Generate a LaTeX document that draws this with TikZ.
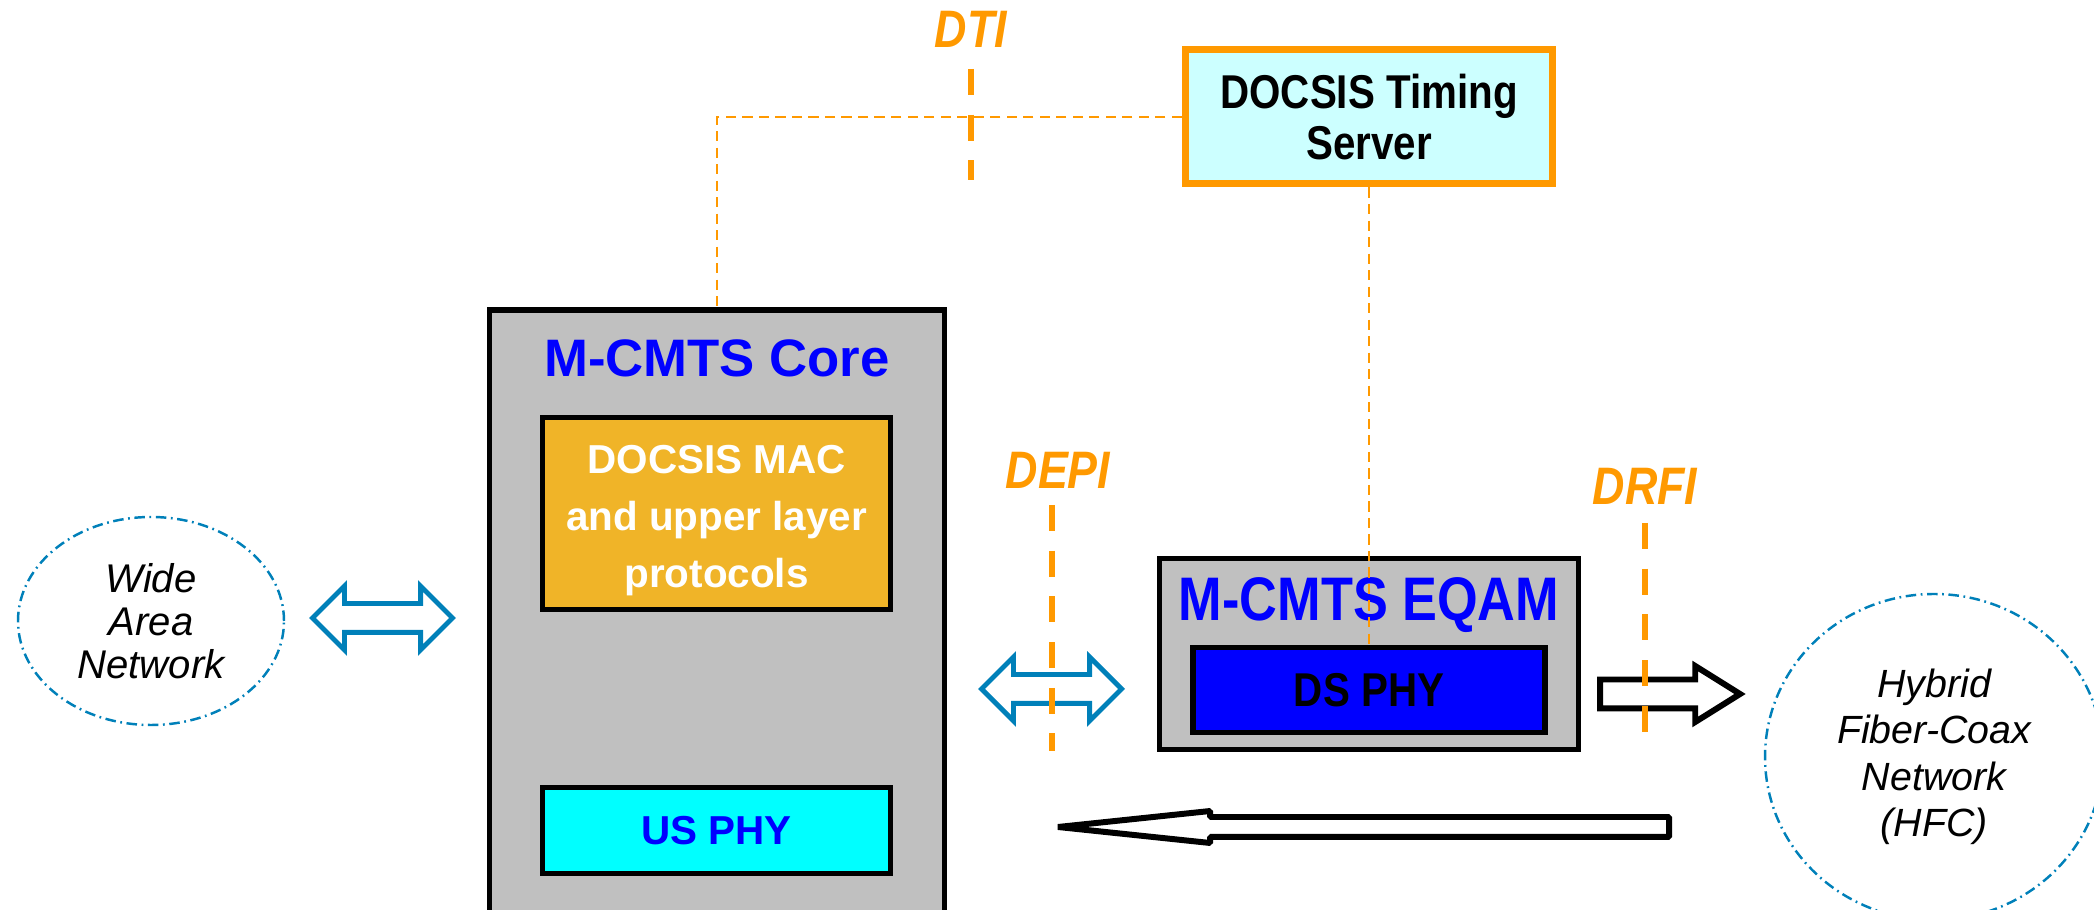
\documentclass[tikz,border=0pt]{standalone}
\usepackage{fontspec}
\setmainfont{Liberation Sans}
\newfontfamily\narrowfont[FakeStretch=0.85]{Liberation Sans}
\usetikzlibrary{shapes.geometric, shapes.arrows}

\definecolor{ifaceorange}{RGB}{255,153,0}
\definecolor{linkblue}{RGB}{0,128,185}
\definecolor{shelfgray}{RGB}{192,192,192}
\definecolor{macgold}{RGB}{240,180,40}
\definecolor{syncpale}{RGB}{204,255,255}
\definecolor{phycyan}{RGB}{0,255,255}
\definecolor{phyblue}{RGB}{0,0,255}

\tikzset{
  block/.style={draw, line width=1.5pt, inner sep=0pt, align=center},
  headline/.style={text=phyblue, font=\bfseries\fontsize{15}{18}\selectfont},
  ifacetag/.style={text=ifaceorange, font=\narrowfont\bfseries\itshape\fontsize{15}{18}\selectfont},
  ifacecut/.style={draw=ifaceorange, line width=1.6pt, dash pattern=on 7.4pt off 5.6pt},
  syncline/.style={draw=ifaceorange, line width=0.6pt, dash pattern=on 2.9pt off 1.8pt},
  netcloud/.style={ellipse, draw=linkblue, line width=0.7pt, inner sep=0pt, align=center,
    dash pattern=on 3pt off 1.3pt on 0.5pt off 1.3pt},
  duplex/.style={shape=double arrow, draw=linkblue, fill=white, line width=1.4pt,
    minimum height=1.40cm, minimum width=0.59cm, inner xsep=0pt, inner ysep=0.12cm,
    double arrow head extend=0.175cm, double arrow tip angle=90},
  flowright/.style={shape=single arrow, draw, fill=white, line width=1.7pt, outer sep=0pt,
    minimum height=1.40cm, minimum width=0.50cm, inner xsep=0pt, inner ysep=0.115cm,
    single arrow head extend=0.135cm, single arrow tip angle=64},
  flowleft/.style={shape=single arrow, shape border rotate=180, draw, fill=white, line width=1.7pt,
    outer sep=0pt, line join=bevel, minimum height=6.11cm, minimum width=0.26cm, inner xsep=0pt,
    inner ysep=0.07cm, single arrow head extend=0.06cm, single arrow tip angle=12}
}

\begin{document}
\begin{tikzpicture}
\useasboundingbox (0,0) rectangle (20.94,9.10);

% M-CMTS Core
\node[block, fill=shelfgray, minimum width=4.55cm, minimum height=6.30cm] (core) at (7.17,2.85) {};
\node[headline] (coretitle) at (7.17,5.52) {M-CMTS Core};
\node[block, fill=macgold, minimum width=3.48cm, minimum height=1.92cm, text=white,
  font=\bfseries\fontsize{11.5}{16.2}\selectfont] (mac) at (7.165,3.965) {\rule{0pt}{0.42cm}DOCSIS MAC\\and upper layer\\protocols};
\node[block, fill=phycyan, minimum width=3.48cm, minimum height=0.86cm, text=phyblue,
  font=\bfseries\fontsize{11.5}{14}\selectfont] (usphy) at (7.165,0.795) {US PHY};

% timing server
\node[block, draw=ifaceorange, line width=2pt, fill=syncpale, minimum width=3.67cm, minimum height=1.34cm,
  font=\narrowfont\bfseries\fontsize{13.5}{14.4}\selectfont] (server) at (13.69,7.93) {DOCSIS Timing\\Server};

% M-CMTS EQAM
\node[block, fill=shelfgray, minimum width=4.19cm, minimum height=1.91cm] (eqam) at (13.69,2.56) {};
\node[headline, font=\narrowfont\bfseries\fontsize{17.5}{20}\selectfont] (eqamtitle) at (13.69,3.05) {M-CMTS EQAM};
\node[block, fill=phyblue, minimum width=3.52cm, minimum height=0.85cm,
  font=\narrowfont\bfseries\fontsize{13.5}{16}\selectfont] (dsphy) at (13.69,2.20) {DS PHY};

% timing links
\draw[syncline] (server.west) -| (core.north);
\draw[syncline] (server.south) -- (dsphy.north);

% networks
\node[netcloud, minimum width=2.66cm, minimum height=2.08cm,
  font=\itshape\fontsize{11.4}{12.3}\selectfont] (wan) at (1.51,2.89) {Wide\\Area\\Network};
\node[netcloud, minimum width=3.38cm, minimum height=3.26cm,
  font=\itshape\fontsize{11.2}{13.2}\selectfont] (hfc) at (19.34,1.53) {Hybrid\\Fiber-Coax\\Network\\(HFC)};

% data paths
\node[duplex] (wanlink) at (3.825,2.92) {};
\node[duplex] (depilink) at (10.515,2.21) {};
\node[flowright, anchor=tail] (drfilink) at (16.00,2.16) {};
\node[flowleft, anchor=tip] (uslink) at (10.58,0.83) {};

% interfaces
\node[ifacetag] (dti) at (9.71,8.81) {DTI};
\coordinate (dtitop) at (9.71,8.41);
\coordinate (dtibot) at (9.71,7.30);
\draw[ifacecut] (dtitop) -- (dtibot);

\node[ifacetag] (depi) at (10.58,4.40) {DEPI};
\coordinate (depitop) at (10.52,4.05);
\coordinate (depibot) at (10.52,1.59);
\draw[ifacecut] (depitop) -- (depibot);

\node[ifacetag] (drfi) at (16.45,4.24) {DRFI};
\coordinate (drfitop) at (16.45,3.87);
\coordinate (drfibot) at (16.45,1.78);
\draw[ifacecut] (drfitop) -- (drfibot);
\end{tikzpicture}
\end{document}
